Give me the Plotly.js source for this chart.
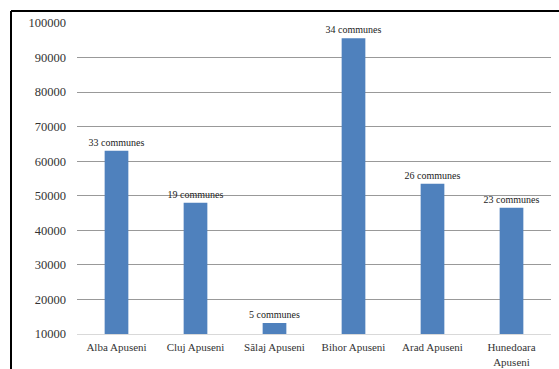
<!DOCTYPE html>
<html>
<head>
<meta charset="utf-8">
<script src="https://cdn.plot.ly/plotly-3.0.1.min.js"></script>
<style>
html,body{margin:0;padding:0;background:#fff;}
#chart{width:559px;height:369px;}
</style>
</head>
<body>
<div id="chart"></div>
<script>
const categories = ["Alba Apuseni", "Cluj Apuseni", "Sălaj Apuseni", "Bihor Apuseni", "Arad Apuseni", "Hunedoara<br>Apuseni"];
const values = [63000, 48000, 13200, 95600, 53500, 46500];
const labels = ["33 communes", "19 communes", "5 communes", "34 communes", "26 communes", "23 communes"];
const yTicks = [10000, 20000, 30000, 40000, 50000, 60000, 70000, 80000, 90000, 100000];

const SERIF = "'Liberation Serif', 'Times New Roman', 'DejaVu Serif', serif";

const trace = {
  type: "bar",
  x: categories,
  y: values,
  text: labels,
  textposition: "outside",
  constraintext: "none",
  cliponaxis: false,
  textfont: {family: SERIF, size: 10, color: "#222"},
  marker: {color: "#4F81BD"},
  hoverinfo: "none"
};

const layout = {
  width: 559,
  height: 369,
  margin: {l: 77, r: 8, t: 23, b: 35},
  paper_bgcolor: "#fff",
  plot_bgcolor: "#fff",
  showlegend: false,
  bargap: 0.7,
  font: {family: SERIF, color: "#333"},
  xaxis: {
    showgrid: false,
    showline: true,
    linecolor: "#d9d9d9",
    linewidth: 1,
    ticks: "",
    ticklabelstandoff: 3,
    tickfont: {family: SERIF, size: 11, color: "#333"},
    fixedrange: true
  },
  yaxis: {
    range: [10000, 100000],
    tickvals: yTicks,
    ticktext: yTicks.map(String),
    showgrid: true,
    gridcolor: "#999999",
    gridwidth: 1,
    zeroline: false,
    showline: false,
    ticks: "",
    ticklabelstandoff: 10,
    tickfont: {family: SERIF, size: 12.5, color: "#333"},
    fixedrange: true
  },
  shapes: [
    {type: "line", xref: "paper", yref: "paper", x0: (11 - 77) / 474, x1: (11 - 77) / 474, y0: (369 - 11 - 35) / 311, y1: -0.2, line: {color: "#000", width: 2}},
    {type: "line", xref: "paper", yref: "paper", x0: (11 - 77) / 474, x1: 1.03, y0: (369 - 11 - 35) / 311, y1: (369 - 11 - 35) / 311, line: {color: "#000", width: 2}}
  ]
};

Plotly.newPlot("chart", [trace], layout, {displayModeBar: false, staticPlot: true});
</script>
</body>
</html>
